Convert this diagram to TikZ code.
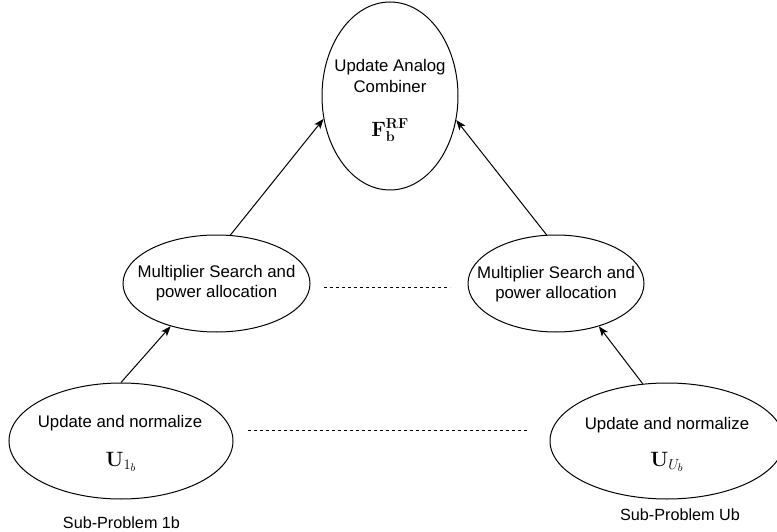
\documentclass[tikz,border=0pt]{standalone}
\usepackage[no-math]{fontspec}
\setmainfont{Liberation Sans}
\usetikzlibrary{shapes.geometric,arrows.meta}
\begin{document}
\begin{tikzpicture}[x=1pt,y=-1pt,
  ell/.style={draw, ellipse, line width=1pt, inner sep=0pt},
  lbl/.style={align=center, inner sep=0pt, font=\fontsize{16.8}{20.5}\selectfont},
  sub/.style={inner sep=0pt, font=\fontsize{16.2}{19}\selectfont},
  mth/.style={inner sep=0pt, font=\fontsize{21}{24}\selectfont},
  arr/.style={line width=1pt, -{Stealth[length=10pt,width=7.5pt,inset=2.5pt]}},
  dsh/.style={line width=1pt, dash pattern=on 3pt off 3pt}]
\useasboundingbox (0,0) rectangle (777,532);
% ellipses
\node[ell, minimum width=136pt, minimum height=188pt] (top) at (390,96) {};
\node[ell, minimum width=187pt, minimum height=97pt] (lm) at (216.5,283.5) {};
\node[ell, minimum width=176pt, minimum height=97pt] (rm) at (556,283.5) {};
\node[ell, minimum width=224pt, minimum height=116pt] (lb) at (121,441) {};
\node[ell, minimum width=234pt, minimum height=116pt] (rb) at (667,441) {};
% texts
\node[lbl] (toptxt) at (390,76) {Update Analog\\Combiner};
\node[mth] (topm) at (390,130) {$\mathbf{F}_{\mathbf{b}}^{\mathbf{RF}}$};
\node[lbl] (lmtxt) at (216.5,283) {Multiplier Search and\\power allocation};
\node[lbl] (rmtxt) at (556,284) {Multiplier Search and\\power allocation};
\node[lbl] (lbtxt) at (120,423) {Update and normalize};
\node[mth] (lbm) at (121,462) {$\mathbf{U}_{1_b}$};
\node[lbl] (rbtxt) at (667,425) {Update and normalize};
\node[mth] (rbm) at (667,462) {$\mathbf{U}_{U_b}$};
\node[sub] (lbsub) at (121.5,523) {Sub-Problem 1b};
\node[sub] (rbsub) at (680,515) {Sub-Problem Ub};
% connectors
\draw[arr] (lb.north) -- (lm.223.7);
\draw[arr] (lm.74.5) -- (top.199.7);
\draw[arr] (rm.101.6) -- (top.340.3);
\draw[arr] (rb.113.8) -- (rm.315.4);
% dashed separators
\coordinate (d1a) at (324,287);
\coordinate (d1b) at (450,287);
\coordinate (d2a) at (248,430);
\coordinate (d2b) at (528,430);
\draw[dsh] (d1a) -- (d1b);
\draw[dsh] (d2a) -- (d2b);
\end{tikzpicture}
\end{document}
